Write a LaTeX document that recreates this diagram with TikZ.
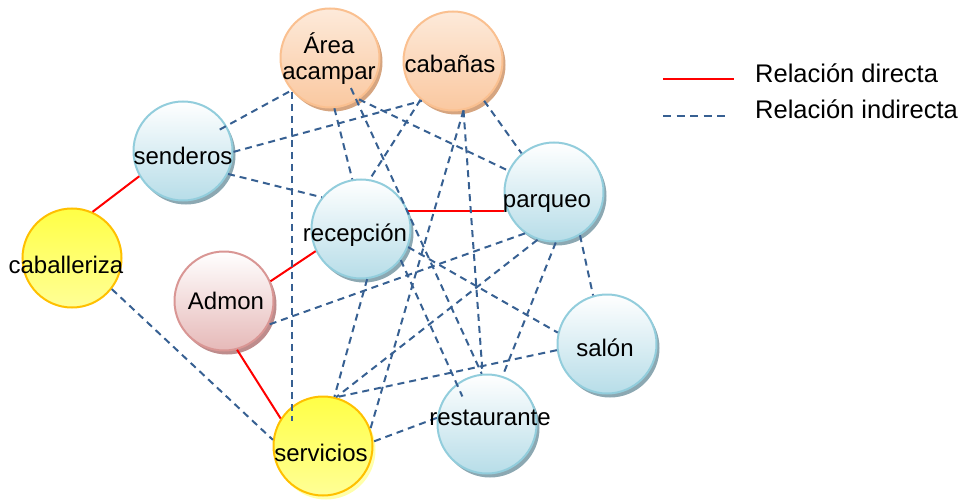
\documentclass[tikz,border=0pt]{standalone}
\usepackage{fontspec}
\setmainfont{Liberation Sans}
\usetikzlibrary{shadows,calc}
\definecolor{dashblue}{RGB}{55,96,146}
\definecolor{bluebd}{RGB}{146,205,220}
\definecolor{bluebot}{RGB}{183,221,232}
\definecolor{blueshd}{RGB}{140,168,178}
\definecolor{orbd}{RGB}{250,192,144}
\definecolor{ortop}{RGB}{253,234,218}
\definecolor{orbot}{RGB}{250,200,160}
\definecolor{orshd}{RGB}{214,165,128}
\definecolor{rdbd}{RGB}{217,150,148}
\definecolor{rdbot}{RGB}{230,185,184}
\definecolor{rdshd}{RGB}{190,140,140}
\definecolor{ylbd}{RGB}{255,192,0}
\definecolor{yltop}{RGB}{255,255,70}
\definecolor{ylbot}{RGB}{255,255,150}
\definecolor{ylshd}{RGB}{255,255,170}
\begin{document}
\begin{tikzpicture}[x=1pt,y=-1pt,
  circ/.style={circle,minimum size=99pt,inner sep=0pt,line width=2pt},
  bluec/.style={circ,draw=bluebd,top color=white,bottom color=bluebot,
    drop shadow={shadow xshift=3pt,shadow yshift=-4pt,fill=blueshd,opacity=1}},
  orc/.style={circ,draw=orbd,top color=ortop,bottom color=orbot,
    drop shadow={shadow xshift=3pt,shadow yshift=-4pt,fill=orshd,opacity=1}},
  rdc/.style={circ,draw=rdbd,top color=white,bottom color=rdbot,
    drop shadow={shadow xshift=3pt,shadow yshift=-4pt,fill=rdshd,opacity=1}},
  ylc/.style={circ,draw=ylbd,top color=yltop,bottom color=ylbot},
  ylcs/.style={ylc,drop shadow={shadow xshift=3pt,shadow yshift=-4pt,fill=ylshd,opacity=1}},
  lbl/.style={font=\fontsize{24}{26}\selectfont,inner sep=0pt,anchor=base,text=black},
  legtxt/.style={font=\fontsize{25.5}{28}\selectfont,inner sep=0pt,anchor=base west,text=black},
  direct/.style={draw=red,line width=2pt},
  indirect/.style={draw=dashblue,line width=2pt,dash pattern=on 7pt off 5pt},
  legdash/.style={draw=dashblue,line width=2pt,dash pattern=on 8pt off 5.5pt}]
\useasboundingbox (0,0) rectangle (971,500);
% circles
\node[orc]   (A) at (330,58)  {};
\node[orc]   (C) at (453,61)  {};
\node[bluec] (S) at (183,151) {};
\node[bluec] (P) at (554,192) {};
\node[bluec] (R) at (361,229) {};
\node[ylc]   (K) at (72,258)  {};
\node[rdc]   (D) at (224,301) {};
\node[bluec] (L) at (607,344) {};
\node[bluec] (T) at (487,424) {};
\node[ylcs]  (V) at (323,446) {};
% direct relations
\draw[direct] (S.210) -- (K.66);
\draw[direct] (R.21) -- (R.21 -| P.west);
\draw[direct] (D.23) -- (R.206);
\draw[direct] (D.285) -- (V.147);
% indirect relations
\draw[indirect] (K.322) -- (V.173);
\draw[indirect,shorten <=-8pt] (S.30) -- (A.220);
\draw[indirect] (S.359) -- (C.232);
\draw[indirect] (S.333) -- (R.141);
\draw[indirect] (A.222) -- (A.222 |- V.150);
\draw[indirect] (A.275) -- (R.100);
\draw[indirect] (A.305) -- (P.155);
\draw[indirect,shorten <=-14pt] (A.302) -- (T.96);
\draw[indirect] (C.230) -- (R.80);
\draw[indirect] (C.282) -- (V.20);
\draw[indirect] (C.282) -- (T.95);
\draw[indirect] (C.308) -- (P.130);
\draw[indirect] (P.235) -- (D.332);
\draw[indirect] (P.251) -- (V.75);
\draw[indirect] (P.272) -- (T.72);
\draw[indirect] (P.301) -- (L.106);
\draw[indirect] (R.339) -- (L.167);
\draw[indirect] (R.277) -- (V.77);
\draw[indirect,shorten >=-14pt] (R.322) -- (T.127);
\draw[indirect] (L.187) -- (V.75);
\draw[indirect] (T.173) -- (V.5);
% labels
\node[lbl,align=center] (At) at (329,80) {Área\\acampar};
\node[lbl] (Ct) at (450,73)  {cabañas};
\node[lbl] (St) at (183,164) {senderos};
\node[lbl] (Pt) at (547,207) {parqueo};
\node[lbl] (Rt) at (355,241) {recepción};
\node[lbl] (Kt) at (66,273)  {caballeriza};
\node[lbl] (Dt) at (226,309) {Admon};
\node[lbl] (Lt) at (605,356) {salón};
\node[lbl] (Tt) at (490,425) {restaurante};
\node[lbl] (Vt) at (321,461) {servicios};
% legend
\coordinate (la1) at (663,79);
\coordinate (lb1) at (734,79);
\coordinate (la2) at (663,116);
\coordinate (lb2) at (726,116);
\draw[direct] (la1) -- (lb1);
\draw[legdash] (la2) -- (lb2);
\node[legtxt] (lg1) at (755,83)  {Relación directa};
\node[legtxt] (lg2) at (755,118) {Relación indirecta};
\end{tikzpicture}
\end{document}
